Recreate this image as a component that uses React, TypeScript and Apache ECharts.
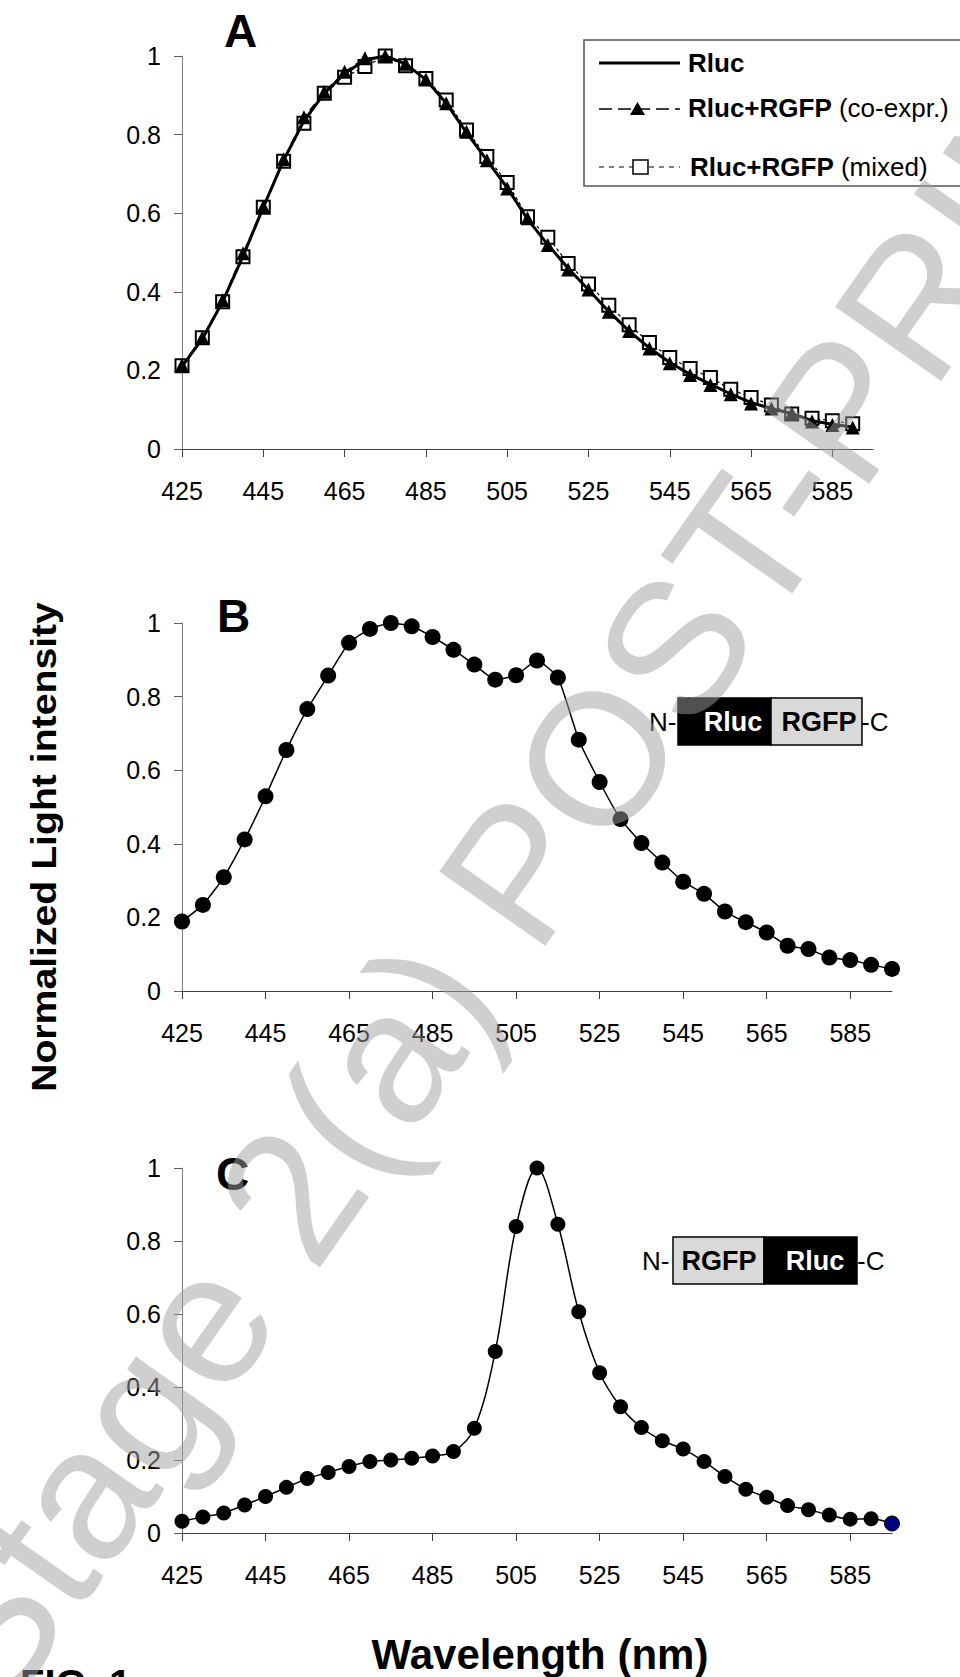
import React, { useEffect, useRef } from "react";
import * as echarts from "echarts";

const wavelengths = [
  "425", "430", "435", "440", "445", "450", "455", "460", "465", "470",
  "475", "480", "485", "490", "495", "500", "505", "510", "515", "520",
  "525", "530", "535", "540", "545", "550", "555", "560", "565", "570",
  "575", "580", "585", "590", "595",
];
const tickLabels = ["425", "445", "465", "485", "505", "525", "545", "565", "585"];
const yMin = 0;
const yMax = 1;
const yStep = 0.2;

// Panel A (425..590 nm)
const rlucA = [
  0.21, 0.28, 0.375, 0.49, 0.615, 0.735, 0.835, 0.905, 0.955, 0.99,
  1.0, 0.98, 0.94, 0.88, 0.805, 0.735, 0.665, 0.585, 0.52, 0.46,
  0.405, 0.35, 0.3, 0.257, 0.22, 0.19, 0.165, 0.14, 0.118, 0.103,
  0.09, 0.072, 0.063, 0.056,
];
const coexprA = [
  0.214, 0.284, 0.379, 0.498, 0.617, 0.737, 0.844, 0.909, 0.96, 0.994,
  1.0, 0.98, 0.94, 0.88, 0.807, 0.735, 0.663, 0.587, 0.519, 0.457,
  0.406, 0.349, 0.3, 0.256, 0.218, 0.188, 0.163, 0.139, 0.116, 0.103,
  0.091, 0.07, 0.061, 0.055,
];
const mixedA = [
  0.212, 0.283, 0.375, 0.489, 0.615, 0.732, 0.829, 0.905, 0.946, 0.973,
  1.0, 0.975, 0.943, 0.888, 0.812, 0.744, 0.678, 0.591, 0.539, 0.472,
  0.42, 0.366, 0.316, 0.271, 0.233, 0.205, 0.182, 0.152, 0.131, 0.112,
  0.089, 0.078, 0.072, 0.064,
];
// Panel B: N-Rluc-RGFP-C
const fusionB = [
  0.189, 0.234, 0.309, 0.412, 0.529, 0.655, 0.766, 0.857, 0.946, 0.984,
  1.0, 0.991, 0.962, 0.927, 0.887, 0.846, 0.858, 0.898, 0.852, 0.683,
  0.568, 0.467, 0.402, 0.349, 0.297, 0.264, 0.216, 0.187, 0.159, 0.123,
  0.114, 0.091, 0.084, 0.071, 0.06,
];
// Panel C: N-RGFP-Rluc-C
const fusionC = [
  0.032, 0.044, 0.055, 0.077, 0.1, 0.125, 0.149, 0.166, 0.182, 0.196,
  0.2, 0.205, 0.211, 0.223, 0.287, 0.497, 0.84, 1.0, 0.846, 0.606,
  0.439, 0.346, 0.289, 0.253, 0.23, 0.196, 0.155, 0.12, 0.098, 0.075,
  0.064, 0.049, 0.038, 0.039, 0.026,
];

const FONT = "'Liberation Sans', Arial, Helvetica, sans-serif";

const grids = [
  { left: 182, top: 56, width: 691, height: 393 },
  { left: 182, top: 623, width: 710, height: 368 },
  { left: 182, top: 1168, width: 710, height: 365 },
];

function xAxisFor(i: number) {
  const isTick = (_idx: number, val: string) => tickLabels.includes(val);
  return {
    type: "category",
    gridIndex: i,
    data: wavelengths,
    boundaryGap: false,
    axisLine: { lineStyle: { color: "#404040", width: 1 } },
    axisTick: { interval: isTick, length: 8, lineStyle: { color: "#404040" } },
    axisLabel: {
      interval: isTick,
      color: "#000",
      fontSize: 25,
      fontFamily: FONT,
      margin: 29,
    },
    splitLine: { show: false },
  };
}

function yAxisFor(i: number) {
  return {
    type: "value",
    gridIndex: i,
    min: yMin,
    max: yMax,
    interval: yStep,
    axisLine: { show: true, lineStyle: { color: "#808080", width: 1 } },
    axisTick: { show: true, length: 8, lineStyle: { color: "#606060" } },
    axisLabel: { color: "#000", fontSize: 25, fontFamily: FONT, margin: 21 },
    splitLine: { show: false },
  };
}

function constructBox(
  y: number,
  items: { label: string; fill: string; textColor: string; x: number; w: number; tx: number }[],
  nx: number,
  cx: number,
  top: number,
  h: number
) {
  const els: any[] = [];
  items.forEach((it) => {
    els.push({
      type: "rect",
      shape: { x: it.x, y: top, width: it.w, height: h },
      style: { fill: it.fill, stroke: "#000", lineWidth: 1.5 },
      z: 10,
    });
    els.push({
      type: "text",
      x: it.tx,
      y,
      z: 11,
      style: {
        text: it.label,
        fill: it.textColor,
        font: `bold 27px ${FONT}`,
        align: "center",
        verticalAlign: "middle",
      },
    });
  });
  els.push({
    type: "text",
    x: nx,
    y,
    z: 11,
    style: { text: "N-", fill: "#000", font: `26px ${FONT}`, align: "left", verticalAlign: "middle" },
  });
  els.push({
    type: "text",
    x: cx,
    y,
    z: 11,
    style: { text: "-C", fill: "#000", font: `26px ${FONT}`, align: "left", verticalAlign: "middle" },
  });
  return els;
}

export default function App() {
  const ref = useRef<HTMLDivElement>(null);

  useEffect(() => {
    document.body.style.margin = "0";
    if (!ref.current) return;
    const chart = echarts.init(ref.current, undefined, { renderer: "svg" });

    const legendEls: any[] = [
      {
        type: "rect",
        shape: { x: 584, y: 40, width: 420, height: 146 },
        style: { fill: "#fff", stroke: "#555", lineWidth: 1.5 },
        z: 10,
      },
      {
        type: "line",
        shape: { x1: 599, y1: 63, x2: 680, y2: 63 },
        style: { stroke: "#000", lineWidth: 3 },
        z: 11,
      },
      {
        type: "text",
        x: 688,
        y: 63,
        z: 11,
        style: { text: "Rluc", fill: "#000", font: `bold 26px ${FONT}`, verticalAlign: "middle" },
      },
      {
        type: "line",
        shape: { x1: 599, y1: 109, x2: 680, y2: 109 },
        style: { stroke: "#000", lineWidth: 1.5, lineDash: [13, 6] },
        z: 11,
      },
      {
        type: "polygon",
        shape: { points: [[630, 115], [645, 115], [637.5, 102]] },
        style: { fill: "#000" },
        z: 12,
      },
      {
        type: "text",
        x: 688,
        y: 108,
        z: 11,
        style: {
          text: "{b|Rluc+RGFP}{n| (co-expr.)}",
          verticalAlign: "middle",
          rich: {
            b: { fontWeight: "bold", fontSize: 26, fontFamily: FONT, fill: "#000" },
            n: { fontWeight: "normal", fontSize: 26, fontFamily: FONT, fill: "#000" },
          },
        },
      },
      {
        type: "line",
        shape: { x1: 599, y1: 167, x2: 680, y2: 167 },
        style: { stroke: "#000", lineWidth: 1.2, lineDash: [5, 5] },
        z: 11,
      },
      {
        type: "rect",
        shape: { x: 633, y: 160, width: 15, height: 14 },
        style: { fill: "#fff", stroke: "#000", lineWidth: 1.5 },
        z: 12,
      },
      {
        type: "text",
        x: 690,
        y: 167,
        z: 11,
        style: {
          text: "{b|Rluc+RGFP}{n| (mixed)}",
          verticalAlign: "middle",
          rich: {
            b: { fontWeight: "bold", fontSize: 26, fontFamily: FONT, fill: "#000" },
            n: { fontWeight: "normal", fontSize: 26, fontFamily: FONT, fill: "#000" },
          },
        },
      },
    ];

    const panelLabel = (t: string, x: number, y: number) => ({
      type: "text",
      x,
      y,
      z: 11,
      style: { text: t, fill: "#000", font: `bold 46px ${FONT}`, verticalAlign: "middle" },
    });

    const graphics: any[] = [
      ...legendEls,
      panelLabel("A", 224, 31),
      panelLabel("B", 217, 616),
      panelLabel("C", 216, 1174),
      ...constructBox(
        722,
        [
          { label: "Rluc", fill: "#000", textColor: "#fff", x: 678, w: 93, tx: 733 },
          { label: "RGFP", fill: "#d9d9d9", textColor: "#000", x: 771, w: 91, tx: 819 },
        ],
        649,
        861,
        698,
        47
      ),
      ...constructBox(
        1261,
        [
          { label: "RGFP", fill: "#d9d9d9", textColor: "#000", x: 673, w: 91, tx: 719 },
          { label: "Rluc", fill: "#000", textColor: "#fff", x: 764, w: 93, tx: 815 },
        ],
        642,
        857,
        1237,
        47
      ),
      {
        type: "text",
        x: 44,
        y: 847,
        rotation: Math.PI / 2,
        scaleX: 1.12,
        z: 11,
        style: {
          text: "Normalized Light intensity",
          fill: "#000",
          font: `bold 35px ${FONT}`,
          align: "center",
          verticalAlign: "middle",
        },
      },
      {
        type: "text",
        x: 540,
        y: 1654,
        z: 11,
        style: {
          text: "Wavelength (nm)",
          fill: "#000",
          font: `bold 42px ${FONT}`,
          align: "center",
          verticalAlign: "middle",
        },
      },
      {
        type: "text",
        x: 20,
        y: 1664,
        z: 11,
        style: { text: "FIG. 1", fill: "#000", font: `bold 40px ${FONT}`, verticalAlign: "top" },
      },
      {
        type: "text",
        x: 540,
        y: 840,
        rotation: (55 * Math.PI) / 180,
        z: 100,
        silent: true,
        style: {
          text: "Stage 2(a) POST-PRINT",
          fill: "rgba(160,160,160,0.5)",
          font: `188px ${FONT}`,
          align: "center",
          verticalAlign: "middle",
        },
      },
    ];

    const lastC = fusionC.length - 1;

    chart.setOption({
      animation: false,
      backgroundColor: "#fff",
      grid: grids.map((g) => ({ ...g, containLabel: false })),
      xAxis: [xAxisFor(0), xAxisFor(1), xAxisFor(2)],
      yAxis: [yAxisFor(0), yAxisFor(1), yAxisFor(2)],
      series: [
        {
          name: "Rluc+RGFP (mixed)",
          type: "line",
          xAxisIndex: 0,
          yAxisIndex: 0,
          data: mixedA,
          symbol: "rect",
          symbolSize: 13,
          showAllSymbol: true,
          lineStyle: { color: "#000", width: 1.2, type: [3, 3] },
          itemStyle: { color: "#fff", borderColor: "#000", borderWidth: 2 },
          z: 2,
        },
        {
          name: "Rluc",
          type: "line",
          xAxisIndex: 0,
          yAxisIndex: 0,
          data: rlucA,
          symbol: "none",
          lineStyle: { color: "#000", width: 3 },
          z: 3,
        },
        {
          name: "Rluc+RGFP (co-expr.)",
          type: "line",
          xAxisIndex: 0,
          yAxisIndex: 0,
          data: coexprA,
          symbol: "triangle",
          symbolSize: 14,
          showAllSymbol: true,
          lineStyle: { color: "#000", width: 1.2, type: [8, 5] },
          itemStyle: { color: "#000" },
          z: 4,
        },
        {
          name: "N-Rluc-RGFP-C",
          type: "line",
          xAxisIndex: 1,
          yAxisIndex: 1,
          data: fusionB,
          symbol: "circle",
          symbolSize: 16,
          showAllSymbol: true,
          smooth: 0.15,
          lineStyle: { color: "#000", width: 1.5 },
          itemStyle: { color: "#000" },
          z: 3,
        },
        {
          name: "N-RGFP-Rluc-C",
          type: "line",
          xAxisIndex: 2,
          yAxisIndex: 2,
          data: fusionC.map((v, i) =>
            i === lastC
              ? { value: v, itemStyle: { color: "#000080", borderColor: "#000", borderWidth: 1 } }
              : v
          ),
          symbol: "circle",
          symbolSize: 15,
          showAllSymbol: true,
          smooth: 0.35,
          lineStyle: { color: "#000", width: 1.5 },
          itemStyle: { color: "#000" },
          z: 3,
        },
      ],
      graphic: graphics,
    });

    return () => {
      chart.dispose();
    };
  }, []);

  return <div ref={ref} style={{ width: 960, height: 1677 }} />;
}
